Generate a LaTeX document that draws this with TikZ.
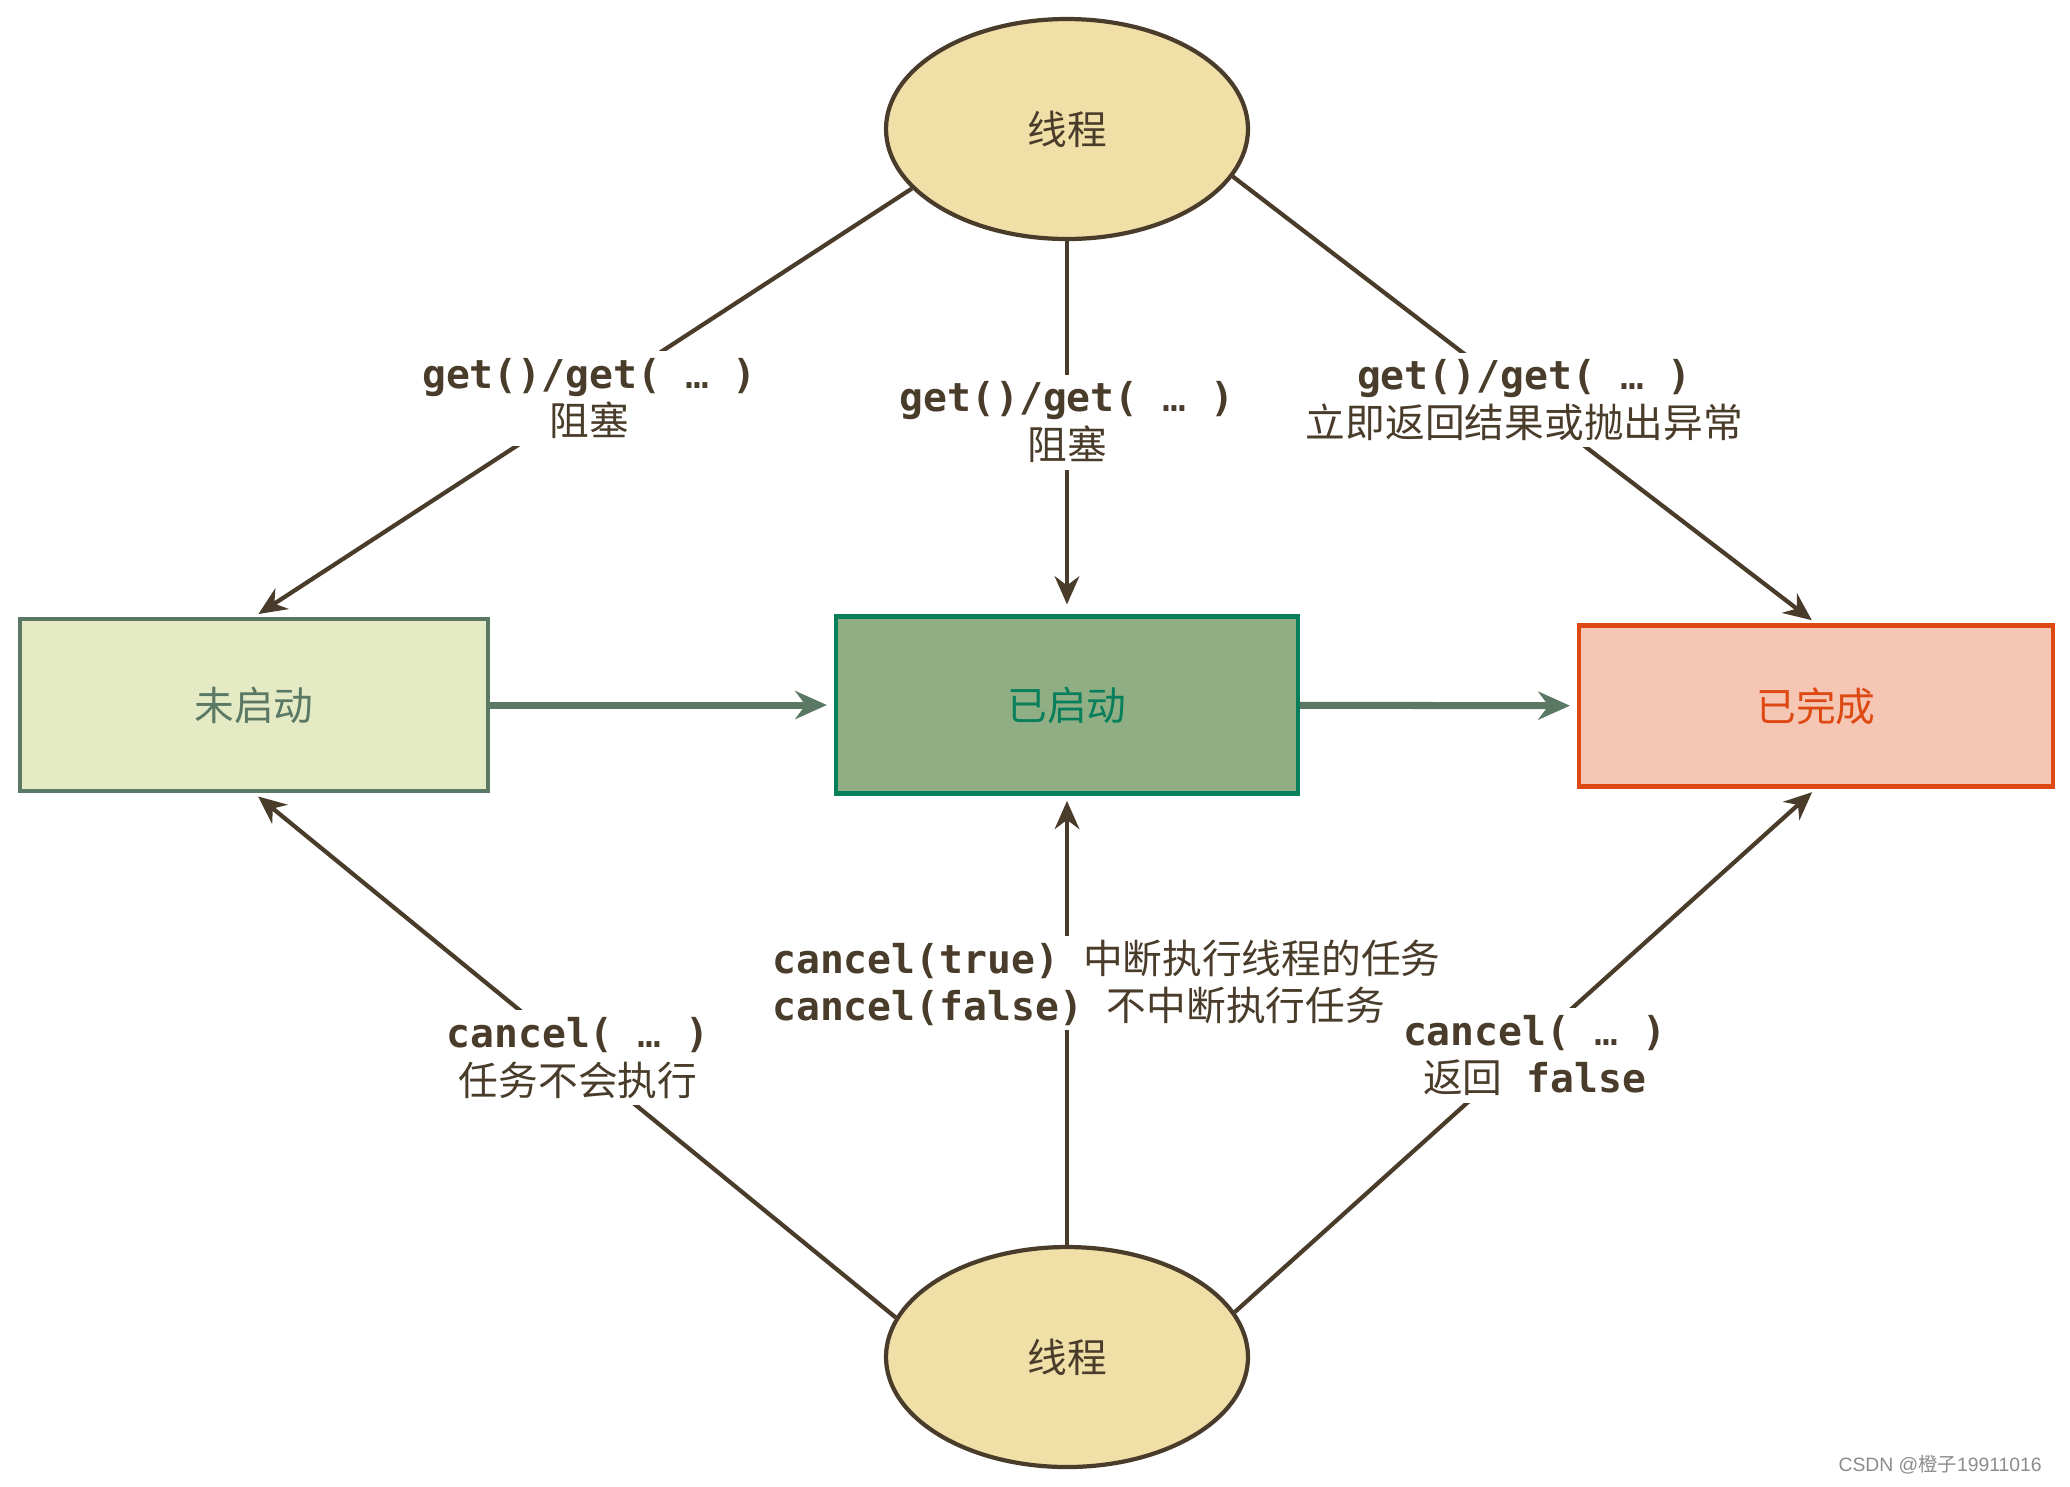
\documentclass[tikz,border=0pt]{standalone}
\usepackage{fontspec}
\setmainfont{Noto Sans CJK SC}
\newfontfamily\codefont{DejaVu Sans Mono}
\newfontfamily\markfont{Liberation Sans}
\usepackage{tikz}
\usetikzlibrary{arrows.meta,shapes.geometric}

\definecolor{inkbrown}{RGB}{74,60,42}
\definecolor{threadfill}{RGB}{240,223,166}
\definecolor{sageline}{RGB}{90,120,100}
\definecolor{newfill}{RGB}{227,234,196}
\definecolor{runline}{RGB}{8,127,91}
\definecolor{runfill}{RGB}{143,174,132}
\definecolor{doneline}{RGB}{222,72,18}
\definecolor{donefill}{RGB}{246,198,180}
\newcommand{\codetxt}[1]{{\codefont\bfseries #1}}
\newcommand{\dotsarg}{{\mdseries …}}

\begin{document}
\begin{tikzpicture}[x=1cm,y=1cm]
  \tikzstyle{every node}=[text=inkbrown, font=\fontsize{11.3}{13.5}\selectfont]
  \tikzstyle{thread}=[shape=ellipse, draw=inkbrown, fill=threadfill, line width=1.2pt,
    minimum width=3.62cm, minimum height=2.2cm, inner sep=0pt]
  \tikzstyle{statebox}=[shape=rectangle, line width=1.2pt, minimum height=1.72cm, inner sep=0pt]
  \tikzstyle{lbl}=[fill=white, align=center, inner sep=2pt]
  \tikzstyle{call}=[draw=inkbrown, line width=1.2pt, shorten >=1.5pt, -{Stealth[length=8pt,width=7pt]}]
  \tikzstyle{move}=[draw=sageline, line width=2pt, shorten >=2pt, -{Stealth[length=9pt,width=8pt]}]
  \fill[white] (0,0) rectangle (20.7,-14.86);
  \path (10.67,-1.29) node[thread] (T) {线程};
\path (10.67,-13.57) node[thread] (S) {线程};
\path (2.54,-7.05) node[statebox, minimum width=4.68cm, draw=sageline, fill=newfill, text=sageline] (N) {未启动};
\path (10.67,-7.05) node[statebox, minimum width=4.62cm, minimum height=1.77cm, draw=runline, fill=runfill, text=runline] (R) {已启动};
\path (18.16,-7.06) node[statebox, minimum width=4.74cm, minimum height=1.61cm, draw=doneline, fill=donefill, text=doneline] (D) {已完成};
  \draw[call] (T.201) -- node[lbl, pos=0.49] (gl) {\codetxt{get()/get( \dotsarg\ )}\\阻塞} (N.north);
  \draw[call, shorten >=0.1cm] (T) -- node[lbl, pos=0.485] (gm) {\codetxt{get()/get( \dotsarg\ )}\\阻塞} (R);
  \draw[call] (T.-16) -- node[lbl, pos=0.5] (gr) {\codetxt{get()/get( \dotsarg\ )}\\立即返回结果或抛出异常} (D.north);
  \draw[move] (N) -- (R);
  \draw[move] (R) -- (D);
  \draw[call] (S.167) -- node[lbl, pos=0.495] (cl) {\codetxt{cancel( \dotsarg\ )}\\任务不会执行} (N.south);
  \draw[call] (S) -- (R);
  \path (7.68,-9.83) node[lbl, anchor=west, align=left, inner sep=1pt] (cm)
    {\codetxt{cancel(true)\ }中断执行线程的任务\\\codetxt{cancel(false)\ }不中断执行任务};
  \draw[call] (S.15) -- node[lbl, pos=0.49, xshift=0.15cm] (cr) {\codetxt{cancel( \dotsarg\ )}\\返回\codetxt{\ false}} (D.south);
  \path (20.54,-14.65) node[anchor=east, text=black!45, font=\fontsize{5.5}{6}\selectfont] (mark)
    {{\markfont CSDN @}橙子{\markfont 19911016}};
\end{tikzpicture}
\end{document}
